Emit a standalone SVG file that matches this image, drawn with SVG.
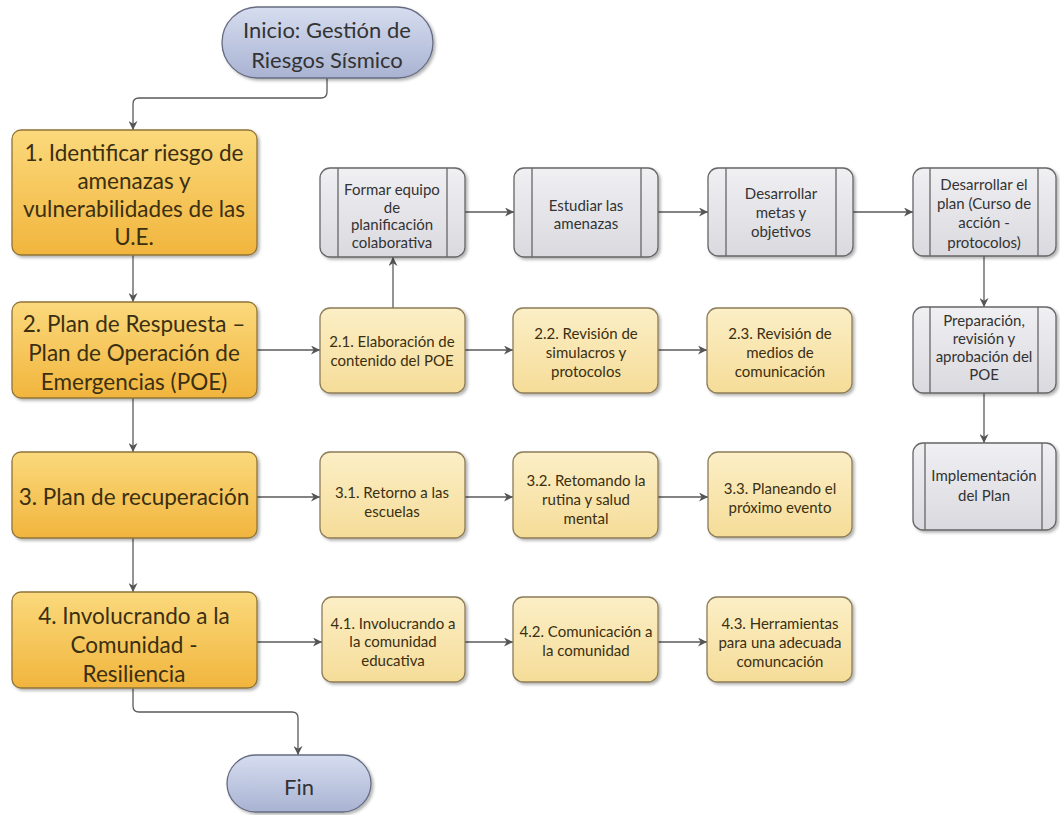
<svg xmlns="http://www.w3.org/2000/svg" width="1060" height="815" viewBox="0 0 1060 815">
<defs>
<linearGradient id="gGold" x1="0" y1="0" x2="0" y2="1"><stop offset="0" stop-color="#fbd97c"/><stop offset="1" stop-color="#f1b53d"/></linearGradient>
<linearGradient id="gBeige" x1="0" y1="0" x2="0" y2="1"><stop offset="0" stop-color="#fcefc6"/><stop offset="1" stop-color="#f5dc98"/></linearGradient>
<linearGradient id="gGray" x1="0" y1="0" x2="0" y2="1"><stop offset="0" stop-color="#f0f0f3"/><stop offset="1" stop-color="#d9d9df"/></linearGradient>
<linearGradient id="gBlue" x1="0" y1="0" x2="0" y2="1"><stop offset="0" stop-color="#d6ddf0"/><stop offset="1" stop-color="#a9b3d2"/></linearGradient>
<filter id="sh" x="-10%" y="-10%" width="130%" height="130%"><feDropShadow dx="2" dy="2" stdDeviation="1.5" flood-color="#000" flood-opacity="0.3"/></filter>
<marker id="arr" viewBox="0 0 10 10" refX="10" refY="5" markerWidth="9" markerHeight="9" markerUnits="userSpaceOnUse" orient="auto"><path d="M0,0 L10,5 L0,10 L3,5 z" fill="#555"/></marker>
<style>
.gold{fill:url(#gGold);stroke:#8f7437;stroke-width:1.3;filter:url(#sh)}
.beige{fill:url(#gBeige);stroke:#8c7c58;stroke-width:1.3;filter:url(#sh)}
.gray{fill:url(#gGray);stroke:#666;stroke-width:1.3;filter:url(#sh)}
.blue{fill:url(#gBlue);stroke:#666c80;stroke-width:1.3;filter:url(#sh)}
.vl{stroke:#666;stroke-width:1.3}
.big{font-family:Lato,"Liberation Sans",sans-serif;font-size:22.5px;fill:#3b2f12;text-anchor:middle;dominant-baseline:central}
.term{font-family:Lato,"Liberation Sans",sans-serif;font-size:22px;fill:#333;text-anchor:middle;dominant-baseline:central}
.sm{font-family:Lato,"Liberation Sans",sans-serif;font-size:15px;fill:#3b2f12;text-anchor:middle;dominant-baseline:central}
.smg{font-family:Lato,"Liberation Sans",sans-serif;font-size:15px;fill:#333;text-anchor:middle;dominant-baseline:central}
.con{fill:none;stroke:#5a5a5a;stroke-width:1.3;marker-end:url(#arr)}
</style>
</defs>
<rect width="1060" height="815" fill="#fff"/>

<g id="connectors">
<path class="con" d="M327,78 V92 Q327,98 321,98 H139 Q133,98 133,104 V130"/>
<path class="con" d="M133,255 V302"/>
<path class="con" d="M133,398 V452"/>
<path class="con" d="M133,538 V592"/>
<path class="con" d="M133,688 V706 Q133,712 139,712 H292 Q298,712 298,718 V755"/>
<path class="con" d="M257,350 H320"/>
<path class="con" d="M465,350 H513"/>
<path class="con" d="M658,350 H707"/>
<path class="con" d="M393,308 V257"/>
<path class="con" d="M465,212 H514"/>
<path class="con" d="M658,212 H708"/>
<path class="con" d="M853,212 H913"/>
<path class="con" d="M984,256 V307"/>
<path class="con" d="M984,393 V443"/>
<path class="con" d="M257,497 H320"/>
<path class="con" d="M465,497 H513"/>
<path class="con" d="M658,497 H708"/>
<path class="con" d="M257,642 H322"/>
<path class="con" d="M465,642 H513"/>
<path class="con" d="M658,642 H707"/>
</g>

<g id="start">
<rect class="blue" x="222" y="7" width="211" height="71" rx="35.5"/>
<text class="term" x="327" y="29">Inicio: Gestión de</text>
<text class="term" x="327" y="59">Riesgos Sísmico</text>
</g>

<g id="step1">
<rect class="gold" x="12" y="130" width="245" height="125" rx="9"/>
<text class="big" x="134" y="152">1. Identificar riesgo de</text>
<text class="big" x="134" y="180">amenazas y</text>
<text class="big" x="134" y="208">vulnerabilidades de las</text>
<text class="big" x="134" y="236">U.E.</text>
</g>

<g id="step2">
<rect class="gold" x="12" y="302" width="245" height="96" rx="9"/>
<text class="big" x="134" y="323">2. Plan de Respuesta –</text>
<text class="big" x="134" y="352">Plan de Operación de</text>
<text class="big" x="134" y="381">Emergencias (POE)</text>
</g>

<g id="step3">
<rect class="gold" x="12" y="452" width="245" height="86" rx="9"/>
<text class="big" x="134" y="496">3. Plan de recuperación</text>
</g>

<g id="step4">
<rect class="gold" x="12" y="592" width="245" height="96" rx="9"/>
<text class="big" x="134" y="615">4. Involucrando a la</text>
<text class="big" x="134" y="644">Comunidad -</text>
<text class="big" x="134" y="673">Resiliencia</text>
</g>

<g id="fin">
<rect class="blue" x="227" y="755" width="144" height="57" rx="28.5"/>
<text class="term" x="299" y="786">Fin</text>
</g>

<g id="formar">
<rect class="gray" x="320" y="168" width="145" height="89" rx="10"/>
<line class="vl" x1="338" y1="168" x2="338" y2="257"/><line class="vl" x1="447" y1="168" x2="447" y2="257"/>
<text class="smg" x="392" y="189">Formar equipo</text>
<text class="smg" x="392" y="207">de</text>
<text class="smg" x="392" y="224">planificación</text>
<text class="smg" x="392" y="242">colaborativa</text>
</g>

<g id="estudiar">
<rect class="gray" x="514" y="168" width="144" height="89" rx="10"/>
<line class="vl" x1="532" y1="168" x2="532" y2="257"/><line class="vl" x1="641" y1="168" x2="641" y2="257"/>
<text class="smg" x="586" y="205">Estudiar las</text>
<text class="smg" x="586" y="223">amenazas</text>
</g>

<g id="metas">
<rect class="gray" x="708" y="168" width="145" height="88" rx="10"/>
<line class="vl" x1="726" y1="168" x2="726" y2="256"/><line class="vl" x1="836" y1="168" x2="836" y2="256"/>
<text class="smg" x="781" y="193">Desarrollar</text>
<text class="smg" x="781" y="212">metas y</text>
<text class="smg" x="781" y="231">objetivos</text>
</g>

<g id="plan">
<rect class="gray" x="913" y="168" width="143" height="88" rx="10"/>
<line class="vl" x1="930" y1="168" x2="930" y2="256"/><line class="vl" x1="1038" y1="168" x2="1038" y2="256"/>
<text class="smg" x="984" y="184">Desarrollar el</text>
<text class="smg" x="984" y="203">plan (Curso de</text>
<text class="smg" x="984" y="222">acción -</text>
<text class="smg" x="984" y="242">protocolos)</text>
</g>

<g id="preparacion">
<rect class="gray" x="913" y="307" width="143" height="86" rx="10"/>
<line class="vl" x1="930" y1="307" x2="930" y2="393"/><line class="vl" x1="1038" y1="307" x2="1038" y2="393"/>
<text class="smg" x="984" y="320">Preparación,</text>
<text class="smg" x="984" y="338">revisión y</text>
<text class="smg" x="984" y="356">aprobación del</text>
<text class="smg" x="984" y="374">POE</text>
</g>

<g id="implementacion">
<rect class="gray" x="913" y="443" width="143" height="87" rx="10"/>
<line class="vl" x1="925" y1="443" x2="925" y2="530"/><line class="vl" x1="1042" y1="443" x2="1042" y2="530"/>
<text class="smg" x="984" y="475">Implementación</text>
<text class="smg" x="984" y="495">del Plan</text>
</g>

<g id="s21">
<rect class="beige" x="320" y="308" width="145" height="85" rx="10"/>
<text class="sm" x="392" y="341">2.1. Elaboración de</text>
<text class="sm" x="392" y="360">contenido del POE</text>
</g>
<g id="s22">
<rect class="beige" x="513" y="308" width="145" height="85" rx="10"/>
<text class="sm" x="586" y="333">2.2. Revisión de</text>
<text class="sm" x="586" y="352">simulacros y</text>
<text class="sm" x="586" y="371">protocolos</text>
</g>
<g id="s23">
<rect class="beige" x="707" y="308" width="145" height="85" rx="10"/>
<text class="sm" x="780" y="333">2.3. Revisión de</text>
<text class="sm" x="780" y="352">medios de</text>
<text class="sm" x="780" y="371">comunicación</text>
</g>

<g id="s31">
<rect class="beige" x="320" y="452" width="145" height="86" rx="10"/>
<text class="sm" x="392" y="492">3.1. Retorno a las</text>
<text class="sm" x="392" y="511">escuelas</text>
</g>
<g id="s32">
<rect class="beige" x="513" y="452" width="145" height="86" rx="10"/>
<text class="sm" x="586" y="480">3.2. Retomando la</text>
<text class="sm" x="586" y="499">rutina y salud</text>
<text class="sm" x="586" y="518">mental</text>
</g>
<g id="s33">
<rect class="beige" x="708" y="452" width="144" height="85" rx="10"/>
<text class="sm" x="780" y="488">3.3. Planeando el</text>
<text class="sm" x="780" y="507">próximo evento</text>
</g>

<g id="s41">
<rect class="beige" x="322" y="597" width="143" height="85" rx="10"/>
<text class="sm" x="393" y="623">4.1. Involucrando a</text>
<text class="sm" x="393" y="641">la comunidad</text>
<text class="sm" x="393" y="660">educativa</text>
</g>
<g id="s42">
<rect class="beige" x="513" y="597" width="145" height="85" rx="10"/>
<text class="sm" x="586" y="631">4.2. Comunicación a</text>
<text class="sm" x="586" y="650">la comunidad</text>
</g>
<g id="s43">
<rect class="beige" x="707" y="597" width="145" height="85" rx="10"/>
<text class="sm" x="780" y="623">4.3. Herramientas</text>
<text class="sm" x="780" y="642">para una adecuada</text>
<text class="sm" x="780" y="661">comuncación</text>
</g>
</svg>
